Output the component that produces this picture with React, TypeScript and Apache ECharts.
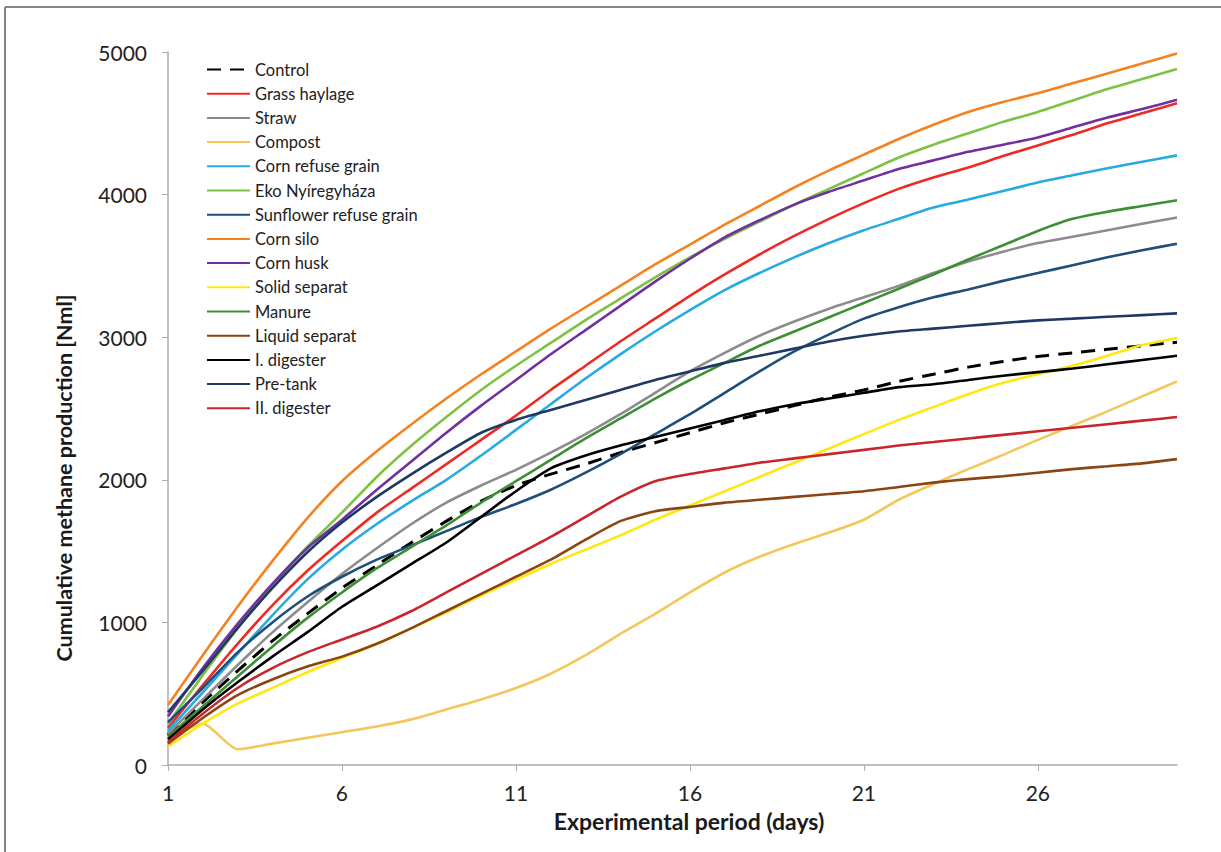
import React, { useEffect, useRef } from "react";
import * as echarts from "echarts";

const days = ["1","2","3","4","5","6","7","8","9","10","11","12","13","14","15","16","17","18","19","20","21","22","23","24","25","26","27","28","29","30"];

const control = [210, 440, 660, 870, 1060, 1240, 1400, 1560, 1710, 1850, 1960, 2040, 2110, 2190, 2260, 2330, 2400, 2460, 2520, 2580, 2630, 2690, 2740, 2790, 2830, 2865, 2890, 2915, 2940, 2965];
const grassHaylage = [260, 560, 850, 1120, 1360, 1570, 1770, 1940, 2110, 2280, 2450, 2630, 2800, 2970, 3130, 3290, 3440, 3580, 3710, 3830, 3940, 4040, 4120, 4190, 4270, 4345, 4420, 4500, 4570, 4640];
const straw = [220, 460, 700, 930, 1140, 1340, 1520, 1690, 1840, 1960, 2070, 2190, 2320, 2460, 2610, 2760, 2890, 3010, 3110, 3200, 3280, 3360, 3450, 3530, 3600, 3660, 3705, 3750, 3795, 3840];
const compost = [190, 290, 110, 150, 190, 230, 270, 320, 390, 460, 540, 640, 770, 920, 1060, 1210, 1350, 1460, 1550, 1630, 1720, 1860, 1970, 2075, 2175, 2280, 2380, 2480, 2585, 2690];
const cornRefuseGrain = [240, 510, 780, 1050, 1300, 1510, 1690, 1850, 2000, 2170, 2350, 2530, 2710, 2880, 3040, 3190, 3330, 3450, 3560, 3660, 3750, 3830, 3910, 3965, 4025, 4085, 4135, 4185, 4230, 4275];
const ekoNyiregyhaza = [290, 630, 960, 1260, 1530, 1770, 2020, 2240, 2440, 2630, 2800, 2960, 3120, 3270, 3420, 3560, 3690, 3810, 3930, 4040, 4150, 4260, 4350, 4430, 4510, 4580, 4660, 4740, 4810, 4880];
const sunflowerRefuseGrain = [300, 540, 790, 1000, 1180, 1320, 1440, 1540, 1640, 1740, 1830, 1930, 2050, 2180, 2320, 2460, 2610, 2760, 2900, 3020, 3130, 3210, 3280, 3335, 3395, 3450, 3505, 3560, 3610, 3655];
const cornSilo = [420, 770, 1110, 1430, 1730, 1990, 2200, 2390, 2570, 2740, 2900, 3060, 3210, 3360, 3510, 3650, 3790, 3920, 4050, 4170, 4280, 4390, 4490, 4580, 4650, 4710, 4780, 4850, 4920, 4990];
const cornHusk = [340, 680, 990, 1270, 1520, 1720, 1930, 2130, 2330, 2520, 2700, 2880, 3050, 3220, 3390, 3550, 3700, 3820, 3930, 4020, 4100, 4180, 4240, 4300, 4350, 4400, 4470, 4540, 4600, 4665];
const solidSeparat = [130, 290, 430, 540, 650, 750, 850, 960, 1070, 1190, 1300, 1410, 1510, 1610, 1720, 1820, 1920, 2020, 2120, 2220, 2320, 2420, 2510, 2600, 2680, 2740, 2800, 2870, 2945, 2995];
const manure = [200, 410, 620, 830, 1030, 1210, 1380, 1530, 1680, 1840, 1990, 2140, 2290, 2430, 2570, 2700, 2820, 2940, 3040, 3140, 3240, 3340, 3440, 3545, 3645, 3745, 3830, 3880, 3920, 3960];
const liquidSeparat = [150, 330, 490, 600, 690, 760, 850, 960, 1080, 1200, 1320, 1440, 1580, 1710, 1780, 1810, 1840, 1860, 1880, 1900, 1920, 1950, 1980, 2005, 2025, 2050, 2075, 2095, 2115, 2145];
const iDigester = [180, 390, 580, 760, 930, 1110, 1260, 1410, 1560, 1740, 1920, 2080, 2170, 2240, 2300, 2360, 2420, 2480, 2530, 2570, 2610, 2650, 2670, 2700, 2730, 2755, 2780, 2810, 2840, 2870];
const preTank = [370, 660, 960, 1240, 1490, 1700, 1880, 2040, 2190, 2330, 2420, 2490, 2560, 2630, 2700, 2760, 2820, 2870, 2920, 2970, 3010, 3040, 3060, 3080, 3100, 3118, 3130, 3143, 3155, 3167];
const iiDigester = [160, 360, 540, 680, 790, 880, 970, 1080, 1210, 1340, 1470, 1600, 1740, 1880, 1990, 2040, 2080, 2120, 2150, 2180, 2210, 2240, 2265, 2290, 2315, 2340, 2365, 2390, 2415, 2440];

const seriesNames = ["Control", "Grass haylage", "Straw", "Compost", "Corn refuse grain", "Eko Nyíregyháza", "Sunflower refuse grain", "Corn silo", "Corn husk", "Solid separat", "Manure", "Liquid separat", "I. digester", "Pre-tank", "II. digester"];
const seriesData = [control, grassHaylage, straw, compost, cornRefuseGrain, ekoNyiregyhaza, sunflowerRefuseGrain, cornSilo, cornHusk, solidSeparat, manure, liquidSeparat, iDigester, preTank, iiDigester];
const seriesColors = ["#000000", "#ee2a24", "#8c8c8c", "#f2c85a", "#27aae1", "#7dc242", "#1f4e79", "#f58220", "#7030a0", "#ffe811", "#3e8e35", "#8b4513", "#000000", "#1f3864", "#c8262c"];

const yTicks = [0, 1000, 2000, 3000, 4000, 5000];

export default function App() {
  const ref = useRef<HTMLDivElement>(null);
  useEffect(() => {
    const chart = echarts.init(ref.current!, null, { renderer: "svg" });
    const font = "Lato, 'Open Sans', sans-serif";
    chart.setOption({
      animation: false,
      backgroundColor: "#ffffff",
      textStyle: { fontFamily: font },
      grid: { left: 168, top: 52, right: 44, bottom: 87, containLabel: false },
      legend: {
        orient: "vertical",
        left: 201,
        top: 56,
        itemWidth: 43,
        itemHeight: 14,
        itemGap: 7.2,
        data: seriesNames,
        itemStyle: { opacity: 0 },
        textStyle: { fontSize: 16.5, color: "#222222", fontFamily: font },
      },
      xAxis: {
        type: "category",
        data: days,
        boundaryGap: false,
        axisLine: { lineStyle: { color: "#b3a9a9", width: 1.5 } },
        axisTick: { show: true, interval: 4, length: 6, lineStyle: { color: "#b3a9a9" } },
        axisLabel: { interval: 4, fontSize: 21, color: "#222222", margin: 17, fontFamily: font },
        splitLine: { show: false },
      },
      yAxis: {
        type: "value",
        min: yTicks[0],
        max: yTicks[yTicks.length - 1],
        interval: 1000,
        axisLine: { show: true, lineStyle: { color: "#b3a9a9", width: 1.5 } },
        axisTick: { show: true, length: 6, lineStyle: { color: "#b3a9a9" } },
        axisLabel: { fontSize: 21, color: "#222222", margin: 21, fontFamily: font, formatter: (v: number) => String(v) },
        splitLine: { show: false },
      },
      graphic: [
        { type: "line", shape: { x1: 5, y1: 7, x2: 1221, y2: 7 }, style: { stroke: "#858585", lineWidth: 2 } },
        { type: "line", shape: { x1: 5, y1: 7, x2: 5, y2: 852 }, style: { stroke: "#858585", lineWidth: 2 } },
        {
          type: "text",
          x: 64,
          y: 478,
          rotation: Math.PI / 2,
          style: {
            text: "Cumulative methane production [Nml]",
            fontSize: 21.5,
            fontWeight: "bold",
            fontFamily: font,
            fill: "#1a1a1a",
            align: "center",
            verticalAlign: "middle",
          },
        },
        {
          type: "text",
          x: 689,
          y: 821,
          style: {
            text: "Experimental period (days)",
            fontSize: 23,
            fontWeight: "bold",
            fontFamily: font,
            fill: "#1a1a1a",
            align: "center",
            verticalAlign: "middle",
          },
        },
      ],
      series: seriesNames.map((name, i) => ({
        name,
        type: "line",
        data: seriesData[i],
        symbol: "none",
        showSymbol: false,
        smooth: 0.2,
        color: seriesColors[i],
        lineStyle: {
          color: seriesColors[i],
          width: i === 0 ? 3 : 2.6,
          type: i === 0 ? [14, 9] : "solid",
        },
      })),
    });
    return () => chart.dispose();
  }, []);
  return (
    <div
      ref={ref}
      style={{ position: "absolute", left: 0, top: 0, width: 1221, height: 852, background: "#ffffff" }}
    />
  );
}
